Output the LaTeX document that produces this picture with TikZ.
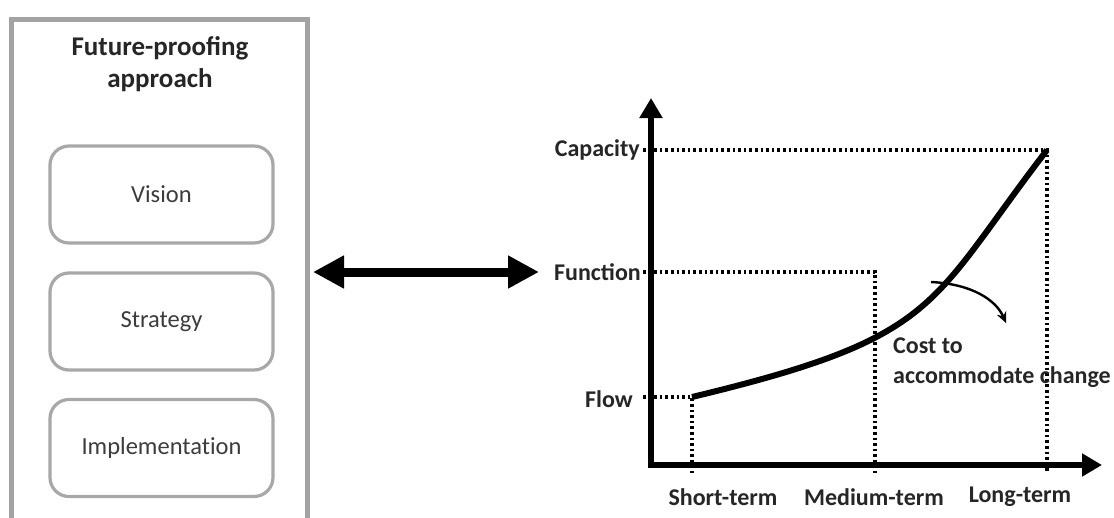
\documentclass[tikz,border=0pt]{standalone}
\usepackage{fontspec}
\setmainfont{Carlito}
\newfontfamily\stagefont{Carlito}[Ligatures=NoCommon]
\usetikzlibrary{arrows.meta}
\definecolor{panelgray}{HTML}{A3A3A3}
\definecolor{boxgray}{HTML}{A8A8A8}
\definecolor{boxtext}{HTML}{3C3C3C}
\definecolor{labeltext}{HTML}{262626}
\tikzset{
  panel/.style={draw=panelgray, line width=5pt},
  stagebox/.style={draw=boxgray, line width=3.2pt, rounded corners=19pt,
    minimum width=223pt, minimum height=97pt, text=boxtext,
    font=\stagefont\fontsize{24.5}{29}\selectfont},
  axislabel/.style={text=labeltext, font=\bfseries\fontsize{24}{29}\selectfont, inner sep=0pt},
  axisline/.style={line width=5.5pt, -{Triangle[length=20pt,width=22pt]}},
  guide/.style={line width=3.2pt, dash pattern=on 2.6pt off 3pt},
  curveline/.style={line width=6pt},
  notearrow/.style={line width=2.4pt, -{Stealth[length=11pt,width=10pt]}},
  linkarrow/.style={line width=9pt, {Triangle[length=31pt,width=31pt]}-{Triangle[length=31pt,width=31pt]}}
}
\begin{document}
\begin{tikzpicture}[x=1pt,y=-1pt]
\useasboundingbox (0,0) rectangle (1114,517);
\fill[white] (0,0) rectangle (1114,517);

% left panel: approach with its three stages
\draw[panel] (11,19.5) rectangle (307.5,540);
\node[text=labeltext, font=\bfseries\fontsize{27}{32}\selectfont, align=center] (title) at (160,64) {Future-proofing\\approach};
\node[stagebox] (vision) at (161.5,194.5) {Vision};
\node[stagebox] (strategy) at (161.5,321.5) {Strategy};
\node[stagebox] (impl) at (161.5,448) {Implementation};

% two-way link between the panel and the chart
\coordinate (linkL) at (313,272);
\coordinate (linkR) at (539,272);
\draw[linkarrow] (linkL) -- (linkR);

% chart axes
\coordinate (ytop) at (651,98);
\coordinate (xend) at (1102,465);
\coordinate (origin0) at (651,467.75);
\coordinate (origin1) at (648.25,465);
\draw[axisline] (origin0) -- (ytop);
\draw[axisline] (origin1) -- (xend);

% levels on the curve
\coordinate (pflow) at (692,397);
\coordinate (pfunc) at (875,272);
\coordinate (pcap) at (1047,150);
\coordinate (tflow) at (643,397);
\coordinate (tfunc) at (643,272);
\coordinate (tcap) at (643,150);
\coordinate (bflow) at (692,473);
\coordinate (bfunc) at (875,473);
\coordinate (bcap) at (1047,473);

\draw[guide] (tcap) -- (pcap) -- (bcap);
\draw[guide] (tfunc) -- (pfunc) -- (bfunc);
\draw[guide] (tflow) -- (pflow) -- (bflow);

% y labels
\node[axislabel, anchor=east] (lcap) at (640,150) {Capacity};
\node[axislabel, anchor=east] (lfunc) at (641,272) {Function};
\node[axislabel, anchor=east] (lflow) at (633,399) {Flow};

% x labels
\node[axislabel] (lshort) at (723,497) {Short-term};
\node[axislabel] (lmed) at (874,497) {Medium-term};
\node[axislabel] (llong) at (1020,497) {Long-term};

% cost curve
\draw[curveline] (pflow) .. controls (942,337) and (927,306) .. (pcap);

% annotation
\coordinate (cstart) at (931,282);
\coordinate (cend) at (1006,323);
\draw[notearrow] (cstart) .. controls (972,284) and (996,300) .. (cend);
\node[axislabel, anchor=west, align=left, font=\bfseries\fontsize{24}{30}\selectfont] (cost) at (893,363) {Cost to\\accommodate change};
\end{tikzpicture}
\end{document}
